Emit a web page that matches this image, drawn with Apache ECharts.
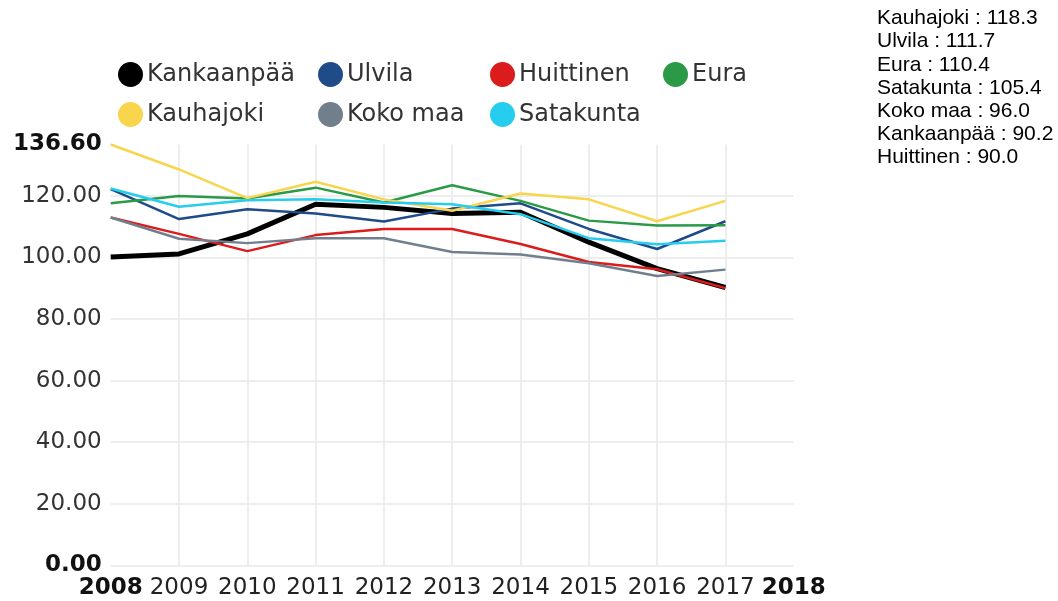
<!DOCTYPE html>
<html>
<head>
<meta charset="utf-8">
<script src="https://cdn.jsdelivr.net/npm/echarts@6/dist/echarts.min.js"></script>
<style>
  html, body { margin: 0; padding: 0; background: #ffffff; }
  #chart { width: 1058px; height: 601px; }
</style>
</head>
<body>
<div id="chart"></div>
<script>
// Index values per municipality, 2008–2017
const years = [2008, 2009, 2010, 2011, 2012, 2013, 2014, 2015, 2016, 2017];
const kankaanpaa = [100.1, 101.1, 107.6, 117.2, 116.2, 114.2, 114.6, 104.9, 96.3, 90.2];
const ulvila     = [122.1, 112.4, 115.6, 114.2, 111.6, 115.8, 117.5, 109.2, 102.7, 111.7];
const huittinen  = [112.9, 107.6, 102.0, 107.2, 109.2, 109.2, 104.3, 98.5, 96.1, 90.0];
const eura       = [117.5, 119.9, 119.1, 122.6, 117.8, 123.4, 118.3, 111.9, 110.3, 110.4];
const kauhajoki  = [136.6, 128.5, 119.2, 124.5, 118.8, 115.1, 120.7, 118.8, 111.7, 118.3];
const kokoMaa    = [112.9, 106.0, 104.6, 106.2, 106.2, 101.7, 100.9, 98.1, 93.9, 96.0];
const satakunta  = [122.3, 116.4, 118.5, 118.8, 117.8, 117.2, 114.0, 106.2, 104.2, 105.4];

const names = ['Kankaanpää', 'Ulvila', 'Huittinen', 'Eura', 'Kauhajoki', 'Koko maa', 'Satakunta'];
const values = [kankaanpaa, ulvila, huittinen, eura, kauhajoki, kokoMaa, satakunta];
const colors = ['#000000', '#1f4b89', '#dc1c1c', '#2a9a47', '#f9d54d', '#717f8d', '#26cdee'];
const widths = [5, 2.5, 2.5, 2.5, 2.5, 2.5, 2.5];

const xMin = 2008, xMax = 2018;
const yMax = Math.max(...values.flat());

// Latest values, highest first
const latest = names
  .map((n, i) => ({ n, v: values[i][values[i].length - 1] }))
  .sort((a, b) => b.v - a.v)
  .map(d => d.n + ' : ' + d.v.toFixed(1))
  .join('\n');

const FONT = 'DejaVu Sans';

const legendCols = [
  { data: ['Kankaanpää', 'Kauhajoki'], left: 118 },
  { data: ['Ulvila', 'Koko maa'], left: 318 },
  { data: ['Huittinen', 'Satakunta'], left: 490 },
  { data: ['Eura'], left: 663 }
];

const chart = echarts.init(document.getElementById('chart'), null, { renderer: 'canvas' });

chart.setOption({
  animation: false,
  backgroundColor: '#ffffff',
  color: colors,
  graphic: {
    elements: [{
      type: 'text',
      x: 877,
      y: 7,
      style: {
        text: latest,
        fontFamily: 'Liberation Sans',
        fontSize: 21,
        lineHeight: 23.1,
        fill: '#000000'
      }
    }]
  },
  legend: legendCols.map(c => ({
    data: c.data,
    left: c.left,
    top: 62,
    orient: 'vertical',
    icon: 'circle',
    itemWidth: 25,
    itemHeight: 25,
    itemGap: 15,
    padding: 0,
    textStyle: { fontFamily: FONT, fontSize: 24, color: '#333333', padding: [0, 0, 0, -1] }
  })),
  grid: { left: 110.7, right: 264.3, top: 144.5, bottom: 35.5 },
  xAxis: {
    type: 'value',
    min: xMin,
    max: xMax,
    interval: 1,
    axisLine: { show: false },
    axisTick: { show: false },
    splitLine: { show: true, showMinLine: false, showMaxLine: false, lineStyle: { color: '#e9e9e9', width: 1.5 } },
    axisLabel: {
      fontFamily: FONT,
      fontSize: 23,
      color: '#222222',
      margin: 11,
      showMinLabel: true,
      showMaxLabel: true,
      hideOverlap: false,
      formatter: v => (v === xMin || v === xMax) ? '{b|' + v + '}' : String(v),
      rich: { b: { fontFamily: FONT, fontSize: 23, fontWeight: 'bold', color: '#111111' } }
    }
  },
  yAxis: {
    type: 'value',
    min: 0,
    max: yMax,
    interval: 20,
    axisLine: { show: false },
    axisTick: { show: false },
    splitLine: { show: true, showMaxLine: false, lineStyle: { color: '#e9e9e9', width: 1.5 } },
    axisLabel: {
      fontFamily: FONT,
      fontSize: 23,
      color: '#333333',
      margin: 9,
      showMinLabel: true,
      showMaxLabel: true,
      formatter: v => (v === 0 || v === yMax) ? '{b|' + v.toFixed(2) + '}' : v.toFixed(2),
      rich: { b: { fontFamily: FONT, fontSize: 23, fontWeight: 'bold', color: '#111111' } }
    }
  },
  series: names.map((n, i) => ({
    name: n,
    type: 'line',
    symbol: 'none',
    data: years.map((y, k) => [y, values[i][k]]),
    lineStyle: { color: colors[i], width: widths[i] },
    itemStyle: { color: colors[i] }
  }))
});
</script>
</body>
</html>
